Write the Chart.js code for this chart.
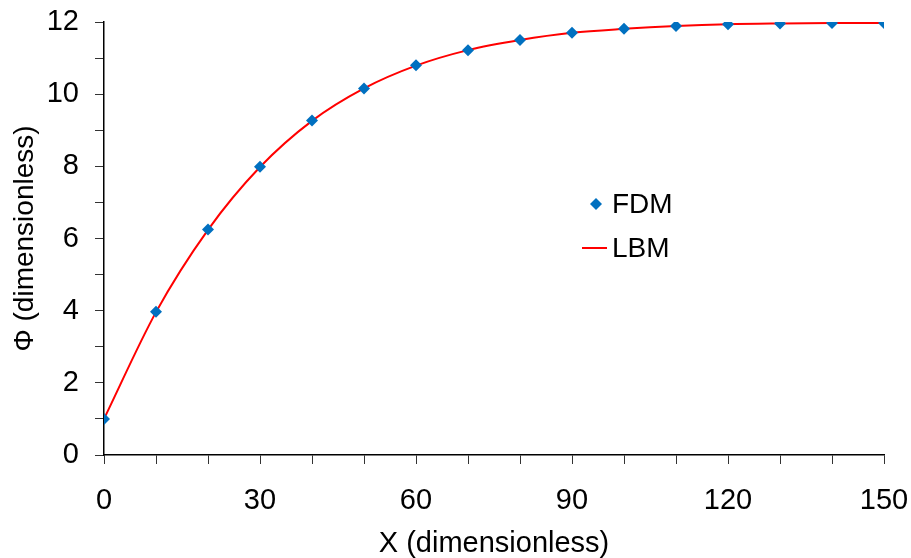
<!DOCTYPE html>
<html>
<head>
<meta charset="utf-8">
<script src="https://cdn.jsdelivr.net/npm/chart.js@4"></script>
<style>
  html, body { margin: 0; padding: 0; background: #fff; }
  #wrap { width: 911px; height: 558px; }
</style>
</head>
<body>
<div id="wrap"><canvas id="chart"></canvas></div>
<script>
const xValues = [0, 10, 20, 30, 40, 50, 60, 70, 80, 90, 100, 110, 120, 130, 140, 150];
const fdmValues = [1.0, 3.97, 6.25, 7.99, 9.27, 10.16, 10.8, 11.22, 11.5, 11.7, 11.81, 11.89, 11.94, 11.96, 11.97, 11.97];
const lbmValues = [1.0, 3.96, 6.24, 7.98, 9.26, 10.16, 10.79, 11.22, 11.5, 11.7, 11.81, 11.89, 11.94, 11.96, 11.97, 11.97];
const seriesNames = ["FDM", "LBM"];

const FONT = "'Liberation Sans', Arial, sans-serif";

// legend drawn inside the plot, like the original
const innerLegend = {
  id: "innerLegend",
  afterDraw(chart) {
    const ctx = chart.ctx;
    ctx.save();
    ctx.font = "28px " + FONT;
    ctx.textBaseline = "middle";
    ctx.textAlign = "left";
    // FDM marker
    ctx.fillStyle = "#0070C0";
    ctx.beginPath();
    ctx.moveTo(596, 198);
    ctx.lineTo(602, 204);
    ctx.lineTo(596, 210);
    ctx.lineTo(590, 204);
    ctx.closePath();
    ctx.fill();
    // LBM line
    ctx.strokeStyle = "#FF0000";
    ctx.lineWidth = 2;
    ctx.beginPath();
    ctx.moveTo(582, 248);
    ctx.lineTo(607, 248);
    ctx.stroke();
    ctx.fillStyle = "#000";
    ctx.fillText(seriesNames[0], 612, 205);
    ctx.fillText(seriesNames[1], 612, 249);
    ctx.restore();
  }
};

new Chart(document.getElementById("chart"), {
  type: "line",
  data: {
    datasets: [
      {
        label: seriesNames[0],
        data: xValues.map((x, i) => ({ x: x, y: fdmValues[i] })),
        showLine: false,
        pointStyle: "rectRot",
        pointRadius: 6,
        backgroundColor: "#0070C0",
        borderColor: "#0070C0",
        borderWidth: 0,
        order: 0
      },
      {
        label: seriesNames[1],
        data: xValues.map((x, i) => ({ x: x, y: lbmValues[i] })),
        borderColor: "#FF0000",
        borderWidth: 2,
        pointRadius: 0,
        cubicInterpolationMode: "monotone",
        fill: false,
        order: 1
      }
    ]
  },
  options: {
    responsive: true,
    maintainAspectRatio: false,
    animation: false,
    layout: { padding: { top: 22, right: 27, left: 8, bottom: -3 } },
    plugins: {
      legend: { display: false },
      tooltip: { enabled: false }
    },
    scales: {
      x: {
        type: "linear",
        min: 0,
        max: 150,
        afterFit(scale) {
          scale.height = 106;
          scale.paddingLeft = 0;
          scale.paddingRight = 0;
        },
        border: { color: "#000", width: 1.5 },
        grid: { drawOnChartArea: false, tickLength: 9, tickColor: "#333" },
        ticks: {
          stepSize: 10,
          autoSkip: false,
          maxRotation: 0,
          padding: 20,
          color: "#000",
          font: { family: FONT, size: 29 },
          callback: (v) => (v % 30 === 0 ? v : "")
        },
        title: {
          display: true,
          text: "X (dimensionless)",
          color: "#000",
          font: { family: FONT, size: 29 },
          padding: { top: 0, bottom: 0 }
        }
      },
      y: {
        min: 0,
        max: 12,
        afterFit(scale) {
          scale.width = 96;
          scale.paddingTop = 0;
          scale.paddingBottom = 0;
        },
        border: { color: "#000", width: 1.5 },
        grid: { drawOnChartArea: false, tickLength: 9, tickColor: "#333" },
        ticks: {
          stepSize: 1,
          autoSkip: false,
          padding: 16,
          color: "#000",
          font: { family: FONT, size: 29 },
          callback: (v) => (v % 2 === 0 ? v : "")
        },
        title: {
          display: true,
          text: "Φ (dimensionless)",
          color: "#000",
          font: { family: FONT, size: 28 },
          padding: { top: 0, bottom: 0 }
        }
      }
    }
  },
  plugins: [innerLegend]
});
</script>
</body>
</html>
